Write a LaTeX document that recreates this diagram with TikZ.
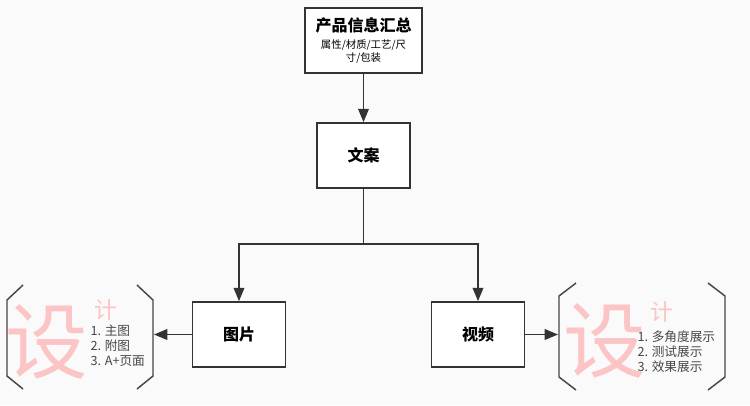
\documentclass[tikz,border=0pt]{standalone}
\usepackage{fontspec}
\setmainfont{Noto Sans CJK SC}
\usetikzlibrary{arrows.meta}
\definecolor{bgGray}{RGB}{250,250,250}
\definecolor{lineGray}{RGB}{51,51,51}
\definecolor{listGray}{RGB}{70,70,70}
\definecolor{designPink}{RGB}{252,196,196}

\tikzset{every picture/.style={line width=0.75pt}}

\begin{document}
\begin{tikzpicture}[x=0.75pt,y=0.75pt,yscale=-1,xscale=1,
  stepbox/.style={draw=lineGray,fill=white,line width=1.3pt,minimum width=69.75pt,minimum height=48.75pt,inner sep=0pt,align=center,font=\bfseries\fontsize{12}{14}\selectfont},
  link/.style={draw=lineGray,line width=1.2pt,-{Triangle[length=10pt,width=8pt]}},
  brace/.style={draw=listGray,line width=1.1pt},
  bigword/.style={text=designPink,inner sep=0pt,font=\fontsize{62}{62}\selectfont},
  smallword/.style={text=designPink,inner sep=0pt,font=\fontsize{17}{17}\selectfont},
  itemlist/.style={text=listGray,inner sep=0pt,anchor=north west,align=left,font=\fontsize{9.5}{11.4}\selectfont}]
%set diagram at 750 x 405
\fill[bgGray] (0,0) rectangle (750,405);
\useasboundingbox (0,0) rectangle (750,405);

% Boxes
\node[stepbox,minimum width=87.75pt,font=\fontsize{7.8}{10}\selectfont] (info) at (363.5,40.5) {\textbf{\fontsize{12}{14}\selectfont 产品信息汇总}\\[3pt]属性/材质/工艺/尺\\寸/包装};
\node[stepbox] (copy) at (363.5,155.5) {文案};
\node[stepbox] (pic) at (239,334.5) {图片};
\node[stepbox] (video) at (478,334.5) {视频};

% Connectors
\coordinate (split) at (363.5,244);
\coordinate (leftend) at (154,334.5);
\coordinate (rightend) at (558,334.5);
\draw[link] (info) -- (copy);
\draw[link] (copy.south) -- (split) -| (pic.north);
\draw[link] (split) -| (video.north);
\draw[link] (pic.west) -- (leftend);
\draw[link] (video.east) -- (rightend);

% Brackets left
\draw[brace] (23,285) -- (7,300) -- (7,376) -- (23,389);
\draw[brace] (137,285) -- (153,300) -- (153,376) -- (137,389);
% Brackets right
\draw[brace] (576,283) -- (559,296) -- (559,377) -- (576,390);
\draw[brace] (708,283) -- (725,296) -- (725,377) -- (708,390);

% Text Node
\node[bigword] (designL) at (47,342) {设};
\node[smallword] (countL) at (106,310) {计};
\node[itemlist] (listL) at (90,324) {1. 主图\\2. 附图\\3. A+页面};
% Text Node
\node[bigword] (designR) at (605,341) {设};
\node[smallword] (countR) at (662,312) {计};
\node[itemlist] (listR) at (637,330) {1. 多角度展示\\2. 测试展示\\3. 效果展示};
\end{tikzpicture}
\end{document}
